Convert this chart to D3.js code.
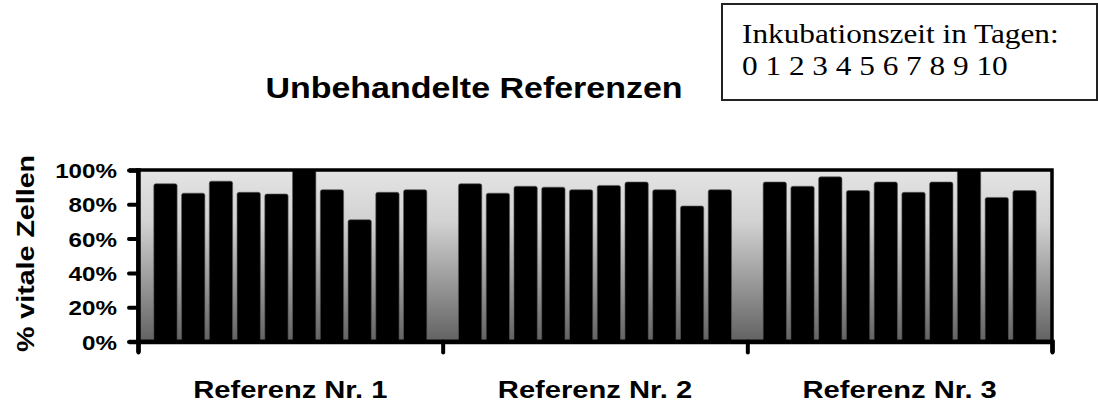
<!DOCTYPE html>
<html>
<head>
<meta charset="utf-8">
<script src="https://cdn.jsdelivr.net/npm/d3@7"></script>
<style>
  html, body { margin: 0; padding: 0; background: #fff; }
  svg { display: block; }
</style>
</head>
<body>
<svg id="chart" width="1098" height="408"></svg>
<script>
// Reference samples and incubation days
const references = ["Referenz Nr. 1", "Referenz Nr. 2", "Referenz Nr. 3"];
const days = ["0", "1", "2", "3", "4", "5", "6", "7", "8", "9"];

// % viable cells per reference, one value per incubation day
const ref1 = [92, 86.5, 93.5, 87, 86, 100, 88.5, 71, 87, 88.5];
const ref2 = [92, 86.5, 90.5, 90, 88.5, 91, 93, 88.5, 79, 88.5];
const ref3 = [93, 90.5, 96, 88, 93, 87, 93, 100, 84, 88];
const seriesValues = [ref1, ref2, ref3];

const yTicks = [0, 20, 40, 60, 80, 100];
const legendTitle = "Inkubationszeit in Tagen:";
const legendDays = ["0", "1", "2", "3", "4", "5", "6", "7", "8", "9", "10"];

const svg = d3.select("#chart");
const plot = { left: 138, right: 1052, top: 170, bottom: 341.5 };
const sx = 1.18; // horizontal text stretch

const x0 = d3.scaleBand().domain(references).range([plot.left, plot.right]).paddingInner(0).paddingOuter(0);
const x1 = d3.scaleBand().domain(days).range([0, x0.bandwidth()]).paddingInner(0.16).paddingOuter(0.57);
const y = d3.scaleLinear().domain([0, 100]).range([plot.bottom, plot.top]);

// background gradient of the plot area
const defs = svg.append("defs");
const grad = defs.append("linearGradient").attr("id", "bg").attr("x1", 0).attr("y1", 0).attr("x2", 0).attr("y2", 1);
grad.append("stop").attr("offset", "0%").attr("stop-color", "#e4e4e4");
grad.append("stop").attr("offset", "30%").attr("stop-color", "#d2d2d2");
grad.append("stop").attr("offset", "100%").attr("stop-color", "#626262");
defs.append("clipPath").attr("id", "clip").append("rect")
  .attr("x", plot.left).attr("y", plot.top)
  .attr("width", plot.right - plot.left).attr("height", plot.bottom - plot.top);

svg.append("rect")
  .attr("x", plot.left).attr("y", plot.top)
  .attr("width", plot.right - plot.left).attr("height", plot.bottom - plot.top)
  .attr("fill", "url(#bg)");

// bars
const barG = svg.append("g").attr("clip-path", "url(#clip)");
references.forEach((ref, gi) => {
  barG.append("g").attr("transform", `translate(${x0(ref)},0)`)
    .selectAll("rect").data(seriesValues[gi]).join("rect")
    .attr("x", (d, i) => x1(days[i]))
    .attr("y", d => y(d))
    .attr("width", x1.bandwidth())
    .attr("height", d => y(0) - y(d))
    .attr("rx", 2)
    .attr("fill", "#000")
    .attr("stroke", "#5a5a5a")
    .attr("stroke-width", 0.6);
});

// frame
svg.append("rect")
  .attr("x", plot.left).attr("y", plot.top)
  .attr("width", plot.right - plot.left).attr("height", plot.bottom - plot.top)
  .attr("fill", "none").attr("stroke", "#000").attr("stroke-width", 3.5);

// y axis
const yAxis = svg.append("g").attr("transform", `translate(${plot.left},0)`)
  .call(d3.axisLeft(y).tickValues(yTicks).tickSize(9).tickFormat(d => d + "%"));
yAxis.select(".domain").attr("stroke", "#000").attr("stroke-width", 4.5);
yAxis.selectAll(".tick line").attr("stroke", "#000").attr("stroke-width", 4).attr("stroke-linecap", "round");
yAxis.selectAll(".tick text")
  .attr("x", 0).attr("dy", null).attr("y", 0)
  .attr("transform", `translate(-21,7.5) scale(${sx},1)`)
  .attr("text-anchor", "end")
  .style("font-family", "'Liberation Sans', Arial, sans-serif")
  .style("font-weight", "bold")
  .style("font-size", "20.5px")
  .attr("fill", "#000");

// x axis with ticks at group boundaries
const boundaries = references.map(r => x0(r)).concat([plot.right]);
const xLin = d3.scaleLinear().domain([plot.left, plot.right]).range([plot.left, plot.right]);
const xAxis = svg.append("g").attr("transform", `translate(0,${plot.bottom})`)
  .call(d3.axisBottom(xLin).tickValues(boundaries).tickSize(11).tickFormat(""));
xAxis.select(".domain").attr("stroke", "#000").attr("stroke-width", 4.5);
xAxis.selectAll(".tick line").attr("stroke", "#000").attr("stroke-width", 4).attr("stroke-linecap", "round");

// category labels
svg.append("g").selectAll("text").data(references).join("text")
  .attr("transform", d => `translate(${x0(d) + x0.bandwidth() / 2},398) scale(${sx},1)`)
  .attr("text-anchor", "middle")
  .style("font-family", "'Liberation Sans', Arial, sans-serif")
  .style("font-weight", "bold")
  .style("font-size", "24.7px")
  .text(d => d);

// y axis title
svg.append("text")
  .attr("transform", `translate(34,253.5) rotate(-90)`)
  .attr("text-anchor", "middle")
  .attr("textLength", 197)
  .attr("lengthAdjust", "spacingAndGlyphs")
  .style("font-family", "'Liberation Sans', Arial, sans-serif")
  .style("font-weight", "bold")
  .style("font-size", "24px")
  .text("% vitale Zellen");

// chart title
svg.append("text")
  .attr("transform", `translate(474,98) scale(${sx},1)`)
  .attr("text-anchor", "middle")
  .style("font-family", "'Liberation Sans', Arial, sans-serif")
  .style("font-weight", "bold")
  .style("font-size", "28.8px")
  .text("Unbehandelte Referenzen");

// legend box
const lg = svg.append("g");
lg.append("rect").attr("x", 722).attr("y", 4).attr("width", 375).attr("height", 96)
  .attr("fill", "#fff").attr("stroke", "#222").attr("stroke-width", 2);
lg.append("text")
  .attr("transform", `translate(742,43) scale(${sx},1)`)
  .style("font-family", "'Liberation Serif', 'Times New Roman', serif")
  .style("font-size", "26.5px")
  .text(legendTitle);
lg.append("text")
  .attr("transform", `translate(742,75) scale(${sx},1)`)
  .style("font-family", "'Liberation Serif', 'Times New Roman', serif")
  .style("font-size", "26.5px")
  .text(legendDays.join(" "));
</script>
</body>
</html>
